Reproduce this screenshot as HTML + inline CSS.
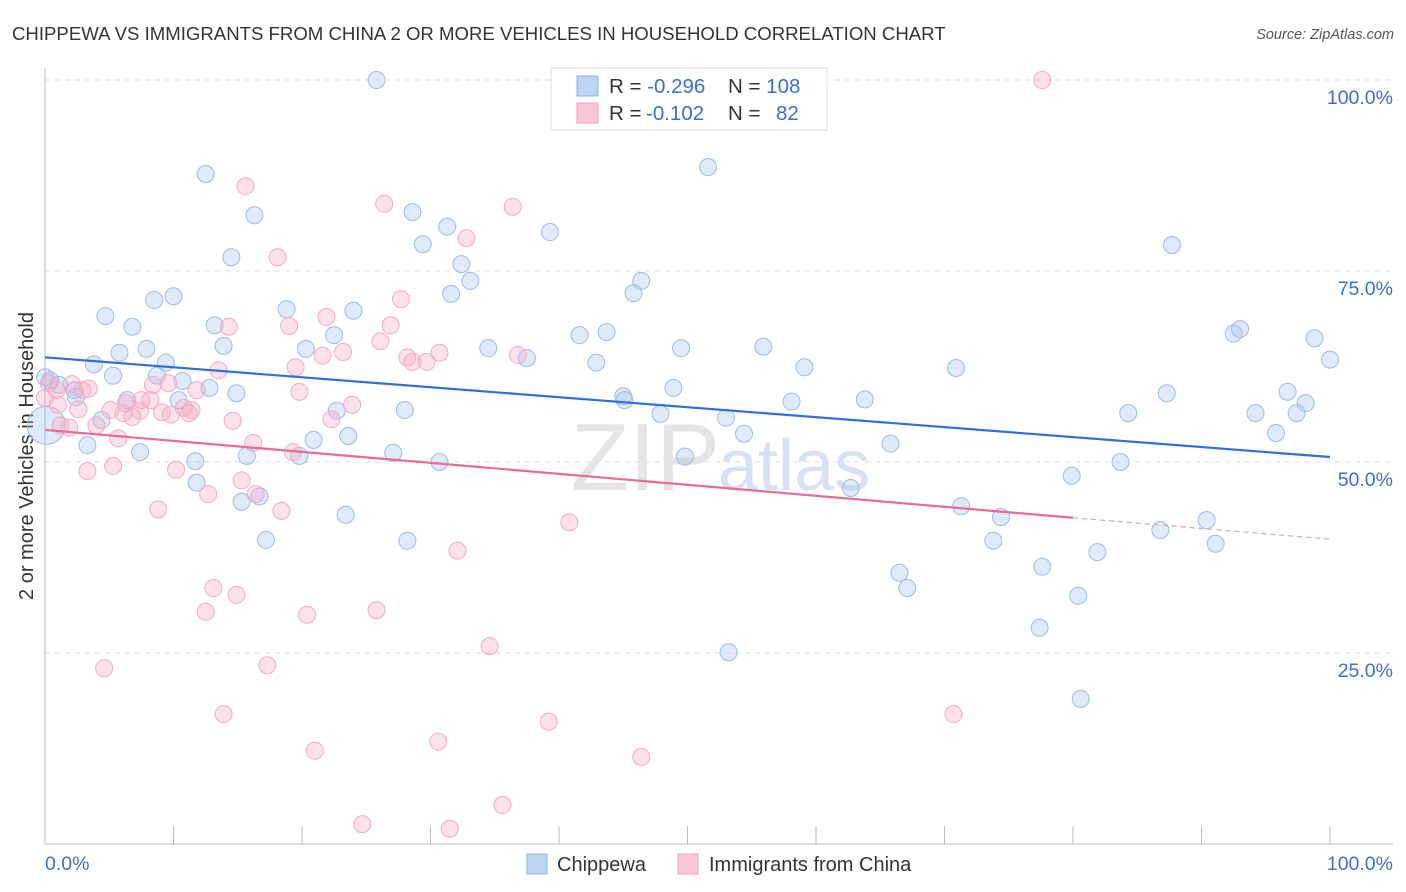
<!DOCTYPE html>
<html><head><meta charset="utf-8">
<style>
body{margin:0;background:#fff;font-family:"Liberation Sans",sans-serif;}
#wrap{position:relative;width:1406px;height:892px;overflow:hidden;}
svg text{font-family:"Liberation Sans",sans-serif;}
</style></head>
<body>
<div id="wrap">
<svg id="chart" width="1406" height="892">
  <text x="12" y="40" font-size="18.6" fill="#333">CHIPPEWA VS IMMIGRANTS FROM CHINA 2 OR MORE VEHICLES IN HOUSEHOLD CORRELATION CHART</text>
  <text x="1394" y="39" font-size="14.5" fill="#555" font-style="italic" text-anchor="end">Source: ZipAtlas.com</text>
  <text x="720" y="490" font-size="96" fill="#e4e4e4" text-anchor="end" font-family="Liberation Serif">ZIP</text>
  <text x="718" y="490" font-size="72" fill="#d6e2f3">atlas</text>
  <text transform="translate(33,456) rotate(-90)" font-size="20" fill="#333" text-anchor="middle">2 or more Vehicles in Household</text>
  <g id="grid"></g><g id="axes"></g><g id="pts"></g><g id="trend"></g>
  <g>
    <rect x="551" y="68" width="276" height="62" fill="#fff" stroke="#ddd"/>
    <rect x="577" y="76" width="21" height="20" fill="#bcd4f4" stroke="#8fb0e0"/>
    <rect x="577" y="103" width="21" height="20" fill="#f9c6d6" stroke="#f0a0bb"/>
    <text x="609" y="93" font-size="20.5" fill="#333">R = <tspan fill="#3a6fd0">-0.296</tspan><tspan x="728">N = </tspan><tspan fill="#3a6fd0">108</tspan></text>
    <text x="609" y="120" font-size="20.5" fill="#333">R = <tspan fill="#3a6fd0" x="646">-0.102</tspan><tspan x="728">N = </tspan><tspan fill="#3a6fd0" x="776">82</tspan></text>
  </g>
  <g>
    <rect x="527" y="854" width="20" height="20" fill="#bcd4f4" stroke="#8fb0e0"/>
    <text x="557" y="871" font-size="20" fill="#333">Chippewa</text>
    <rect x="678" y="854" width="20" height="20" fill="#f9c6d6" stroke="#f0a0bb"/>
    <text x="709" y="871" font-size="20" fill="#333">Immigrants from China</text>
  </g>
  <text x="45" y="870" font-size="19.5" fill="#3a6fd0">0.0%</text>
  <text x="1393" y="870" font-size="19.5" fill="#3a6fd0" text-anchor="end">100.0%</text>
</svg>
</div>
<script>
const blueX=[0.1,25.8,12.5,51.6,16.3,28.6,31.3,39.3,29.4,14.5,87.7,32.4,33.1,46.4,31.6,45.8,10.0,8.5,18.8,24.0,4.7,6.8,13.2,22.5,41.6,43.7,93.0,92.5,98.8,13.9,20.3,34.5,49.5,55.9,7.9,5.8,37.5,100,3.8,9.4,42.9,59.1,70.9,5.3,0,8.7,10.7,12.8,14.9,48.9,1.1,2.3,87.3,96.7,2.4,63.8,45.0,45.1,58.1,6.4,10.4,98.1,28.0,22.7,4.4,47.9,53.0,84.3,94.2,97.4,54.4,23.6,20.9,3.3,65.8,95.8,7.4,27.1,11.7,15.7,19.8,30.7,49.8,83.7,79.9,11.8,62.7,16.7,15.3,71.3,23.4,74.4,90.4,86.8,17.2,28.2,91.1,73.8,81.9,66.5,77.6,67.1,80.4,77.4,53.2,80.6,0.4];
const blueY=[54.8,100,87.7,88.6,82.3,82.7,80.8,80.1,78.5,76.8,78.4,75.9,73.7,73.7,72.0,72.1,71.7,71.2,70.0,69.8,69.1,67.7,67.9,66.6,66.6,67.0,67.4,66.8,66.2,65.2,64.8,64.9,64.9,65.1,64.8,64.3,63.6,63.4,62.8,63.0,63.0,62.4,62.3,61.3,61.1,61.3,60.6,59.7,59.0,59.7,60.1,59.4,59.0,59.2,58.5,58.2,58.6,58.1,57.9,58.1,58.1,57.7,56.8,56.7,55.5,56.3,55.8,56.4,56.4,56.4,53.7,53.4,52.9,52.2,52.4,53.8,51.3,51.2,50.1,50.8,50.8,50.0,50.7,50.0,48.2,47.3,46.6,45.5,44.8,44.2,43.1,42.8,42.4,41.1,39.8,39.7,39.3,39.7,38.2,35.5,36.3,33.5,32.5,28.3,25.1,19.0,60.7];
const pinkX=[77.6,15.6,26.4,36.4,32.8,18.1,27.7,21.9,14.3,26.9,19.0,26.1,23.2,21.6,36.8,28.2,30.7,28.6,29.7,19.5,13.5,0.3,0.9,2.1,3.4,11.8,9.6,8.4,2.9,8.2,6.3,7.5,0,6.1,1.0,2.6,5.1,6.8,7.4,9.1,9.8,11.2,10.8,11.4,23.9,19.8,1.2,1.9,4.0,22.3,14.6,5.7,16.2,19.3,10.2,3.3,5.3,15.3,16.4,12.7,18.4,8.8,40.8,32.1,13.1,14.9,12.5,25.8,20.4,34.6,4.6,17.3,13.9,39.2,70.7,30.6,21.0,46.4,35.6,24.7,31.5];
const pinkY=[100,86.1,83.8,83.4,79.3,76.8,71.3,69.0,67.7,67.9,67.8,65.8,64.4,63.9,64.0,63.7,64.3,63.1,63.1,62.4,62.0,60.3,59.4,60.2,59.6,59.4,60.3,60.1,59.4,58.1,57.7,58.1,58.4,56.4,57.5,56.9,56.8,55.9,56.7,56.5,56.2,56.4,57.1,56.8,57.5,59.2,54.8,54.5,54.8,55.6,55.4,53.1,52.5,51.3,49.0,48.8,49.5,47.6,45.8,45.8,43.6,43.8,42.1,38.4,33.5,32.6,30.4,30.6,30.0,25.9,23.0,23.4,17.0,16.0,17.0,13.4,12.2,11.4,5.1,2.6,2.0];
const blueTrendX=[0,100];
const blueTrendY=[63.7,50.65];
const pinkTrendX=[0,80,100];
const pinkTrendY=[54.2,42.7,39.9];
const yTicks=[25,50,75,100];
const yTickLabels=["25.0%","50.0%","75.0%","100.0%"];
const xTicks=[0,10,20,30,40,50,60,70,80,90,100];

const NS="http://www.w3.org/2000/svg";
const sx=v=>45+v*12.85;
const sy=v=>844-v*7.64;
function mk(tag,attrs,parent){const e=document.createElementNS(NS,tag);for(const k in attrs)e.setAttribute(k,attrs[k]);parent.appendChild(e);return e;}
const grid=document.getElementById('grid'),axes=document.getElementById('axes'),pts=document.getElementById('pts'),trend=document.getElementById('trend'),svg=document.getElementById('chart');
yTicks.forEach((t,i)=>{
  const l=mk('line',{x1:45,x2:1393,y1:sy(t),y2:sy(t),stroke:'#ddd','stroke-dasharray':'5,5'},grid);
  
  
  const tx=mk('text',{x:1393,y:sy(t)+24,'font-size':19.5,fill:'#3a6fd0','text-anchor':'end'},svg);
  tx.textContent=yTickLabels[i];
  
  
});
const xa=mk('line',{x1:45,x2:1393,y1:844,y2:844,stroke:'#bbb'},axes);


const ya=mk('line',{x1:45,x2:45,y1:68,y2:844,stroke:'#bbb'},axes);


xTicks.forEach(t=>{
  const l=mk('line',{x1:sx(t),x2:sx(t),y1:826,y2:844,stroke:'#bbb'},axes);
  
  
});
blueX.forEach((x,i)=>{
  const c=mk('circle',{cx:sx(x),cy:sy(blueY[i]),r:i===0?19:8.5,fill:'rgba(160,192,238,0.35)',stroke:'#9dbce6','stroke-width':1},pts);
  
  
});
pinkX.forEach((x,i)=>{
  const c=mk('circle',{cx:sx(x),cy:sy(pinkY[i]),r:8.5,fill:'rgba(246,170,196,0.35)',stroke:'#f2acc4','stroke-width':1},pts);
  
  
});
const bl=mk('line',{x1:sx(blueTrendX[0]),y1:sy(blueTrendY[0]),x2:sx(blueTrendX[1]),y2:sy(blueTrendY[1]),stroke:'#2f6fd6','stroke-width':2.2},trend);


const pl=mk('line',{x1:sx(pinkTrendX[0]),y1:sy(pinkTrendY[0]),x2:sx(pinkTrendX[1]),y2:sy(pinkTrendY[1]),stroke:'#e8699a','stroke-width':2.2},trend);


const pd=mk('line',{x1:sx(pinkTrendX[1]),y1:sy(pinkTrendY[1]),x2:sx(pinkTrendX[2]),y2:sy(pinkTrendY[2]),stroke:'#e8a0bb','stroke-width':1.2,'stroke-dasharray':'5,4'},trend);


</script>
</body></html>
